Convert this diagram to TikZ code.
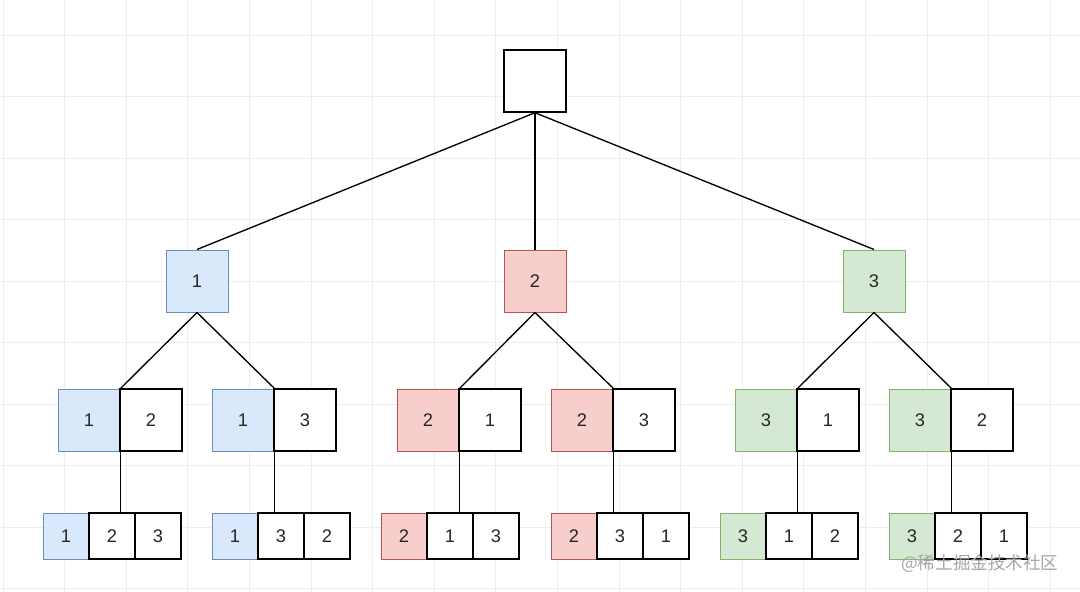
\documentclass[tikz,border=0pt]{standalone}
\usepackage{fontspec}
\setmainfont{Liberation Sans}
\newfontfamily\cjk{Noto Sans CJK SC}
\definecolor{gridgray}{HTML}{EDEDED}
\definecolor{bluefill}{HTML}{DAE8FC}
\definecolor{blueline}{HTML}{6C8EBF}
\definecolor{redfill}{HTML}{F8CECC}
\definecolor{redline}{HTML}{B85450}
\definecolor{greenfill}{HTML}{D5E8D4}
\definecolor{greenline}{HTML}{82B366}
\tikzset{
  bigbox/.style={draw=black, line width=1pt, fill=white, minimum size=1.55cm, inner sep=0pt, text=black!85, font=\fontsize{13}{15}\selectfont},
  smallbox/.style={draw=black, line width=1pt, fill=white, minimum size=1.15cm, inner sep=0pt, text=black!85, font=\fontsize{13}{15}\selectfont},
  bluebox/.style={draw=blueline, line width=0.7pt, fill=bluefill},
  redbox/.style={draw=redline, line width=0.7pt, fill=redfill},
  greenbox/.style={draw=greenline, line width=0.7pt, fill=greenfill},
  link/.style={line width=0.95pt, black},
}

\begin{document}
\begin{tikzpicture}[x=0.025cm, y=-0.025cm]

\useasboundingbox (0,0) rectangle (1080,592);
\fill[white] (0,0) rectangle (1080,592);
% grid
\foreach \gx in {0,...,17} \draw[gridgray, line width=0.6pt] (3+61.6*\gx,0) -- (3+61.6*\gx,592);
\foreach \gy in {0,...,9} \draw[gridgray, line width=0.6pt] (0,35+61.5*\gy) -- (1080,35+61.5*\gy);

% root and first level
\node[bigbox] (r) at (535,81) {};
\node[bigbox, bluebox] (a1) at (197,281) {1};
\node[bigbox, redbox] (a2) at (535,281) {2};
\node[bigbox, greenbox] (a3) at (874,281) {3};

% second level
\node[bigbox, bluebox] (b1) at (89,420) {1};
\node[bigbox] (b1w) at (151,420) {2};
\node[bigbox, bluebox] (b2) at (243,420) {1};
\node[bigbox] (b2w) at (305,420) {3};
\node[bigbox, redbox] (b3) at (428,420) {2};
\node[bigbox] (b3w) at (490,420) {1};
\node[bigbox, redbox] (b4) at (582,420) {2};
\node[bigbox] (b4w) at (644,420) {3};
\node[bigbox, greenbox] (b5) at (766,420) {3};
\node[bigbox] (b5w) at (828,420) {1};
\node[bigbox, greenbox] (b6) at (920,420) {3};
\node[bigbox] (b6w) at (982,420) {2};

% third level
\node[smallbox, bluebox] (c1) at (66,536) {1};
\node[smallbox] (c1a) at (112,536) {2};
\node[smallbox] (c1b) at (158,536) {3};
\node[smallbox, bluebox] (c2) at (235,536) {1};
\node[smallbox] (c2a) at (281,536) {3};
\node[smallbox] (c2b) at (327,536) {2};
\node[smallbox, redbox] (c3) at (404,536) {2};
\node[smallbox] (c3a) at (450,536) {1};
\node[smallbox] (c3b) at (496,536) {3};
\node[smallbox, redbox] (c4) at (574,536) {2};
\node[smallbox] (c4a) at (620,536) {3};
\node[smallbox] (c4b) at (666,536) {1};
\node[smallbox, greenbox] (c5) at (743,536) {3};
\node[smallbox] (c5a) at (789,536) {1};
\node[smallbox] (c5b) at (835,536) {2};
\node[smallbox, greenbox] (c6) at (912,536) {3};
\node[smallbox] (c6a) at (958,536) {2};
\node[smallbox] (c6b) at (1004,536) {1};

% links
\draw[link] (r.south) -- (a1.north);
\draw[link] (r.south) -- (a2.north);
\draw[link] (r.south) -- (a3.north);
\draw[link] (a1.south) -- (b1.north east);
\draw[link] (a1.south) -- (b2.north east);
\draw[link] (a2.south) -- (b3.north east);
\draw[link] (a2.south) -- (b4.north east);
\draw[link] (a3.south) -- (b5.north east);
\draw[link] (a3.south) -- (b6.north east);
\draw[link] (b1.south east) -- (b1.south east |- c1a.north);
\draw[link] (b2.south east) -- (b2.south east |- c2a.north);
\draw[link] (b3.south east) -- (b3.south east |- c3a.north);
\draw[link] (b4.south east) -- (b4.south east |- c4a.north);
\draw[link] (b5.south east) -- (b5.south east |- c5a.north);
\draw[link] (b6.south east) -- (b6.south east |- c6a.north);

% watermark
\node[anchor=west, inner sep=0pt, text=black!35, font=\cjk\fontsize{12.5}{14}\selectfont] (wm) at (901,564) {@稀土掘金技术社区};

\end{tikzpicture}
\end{document}
